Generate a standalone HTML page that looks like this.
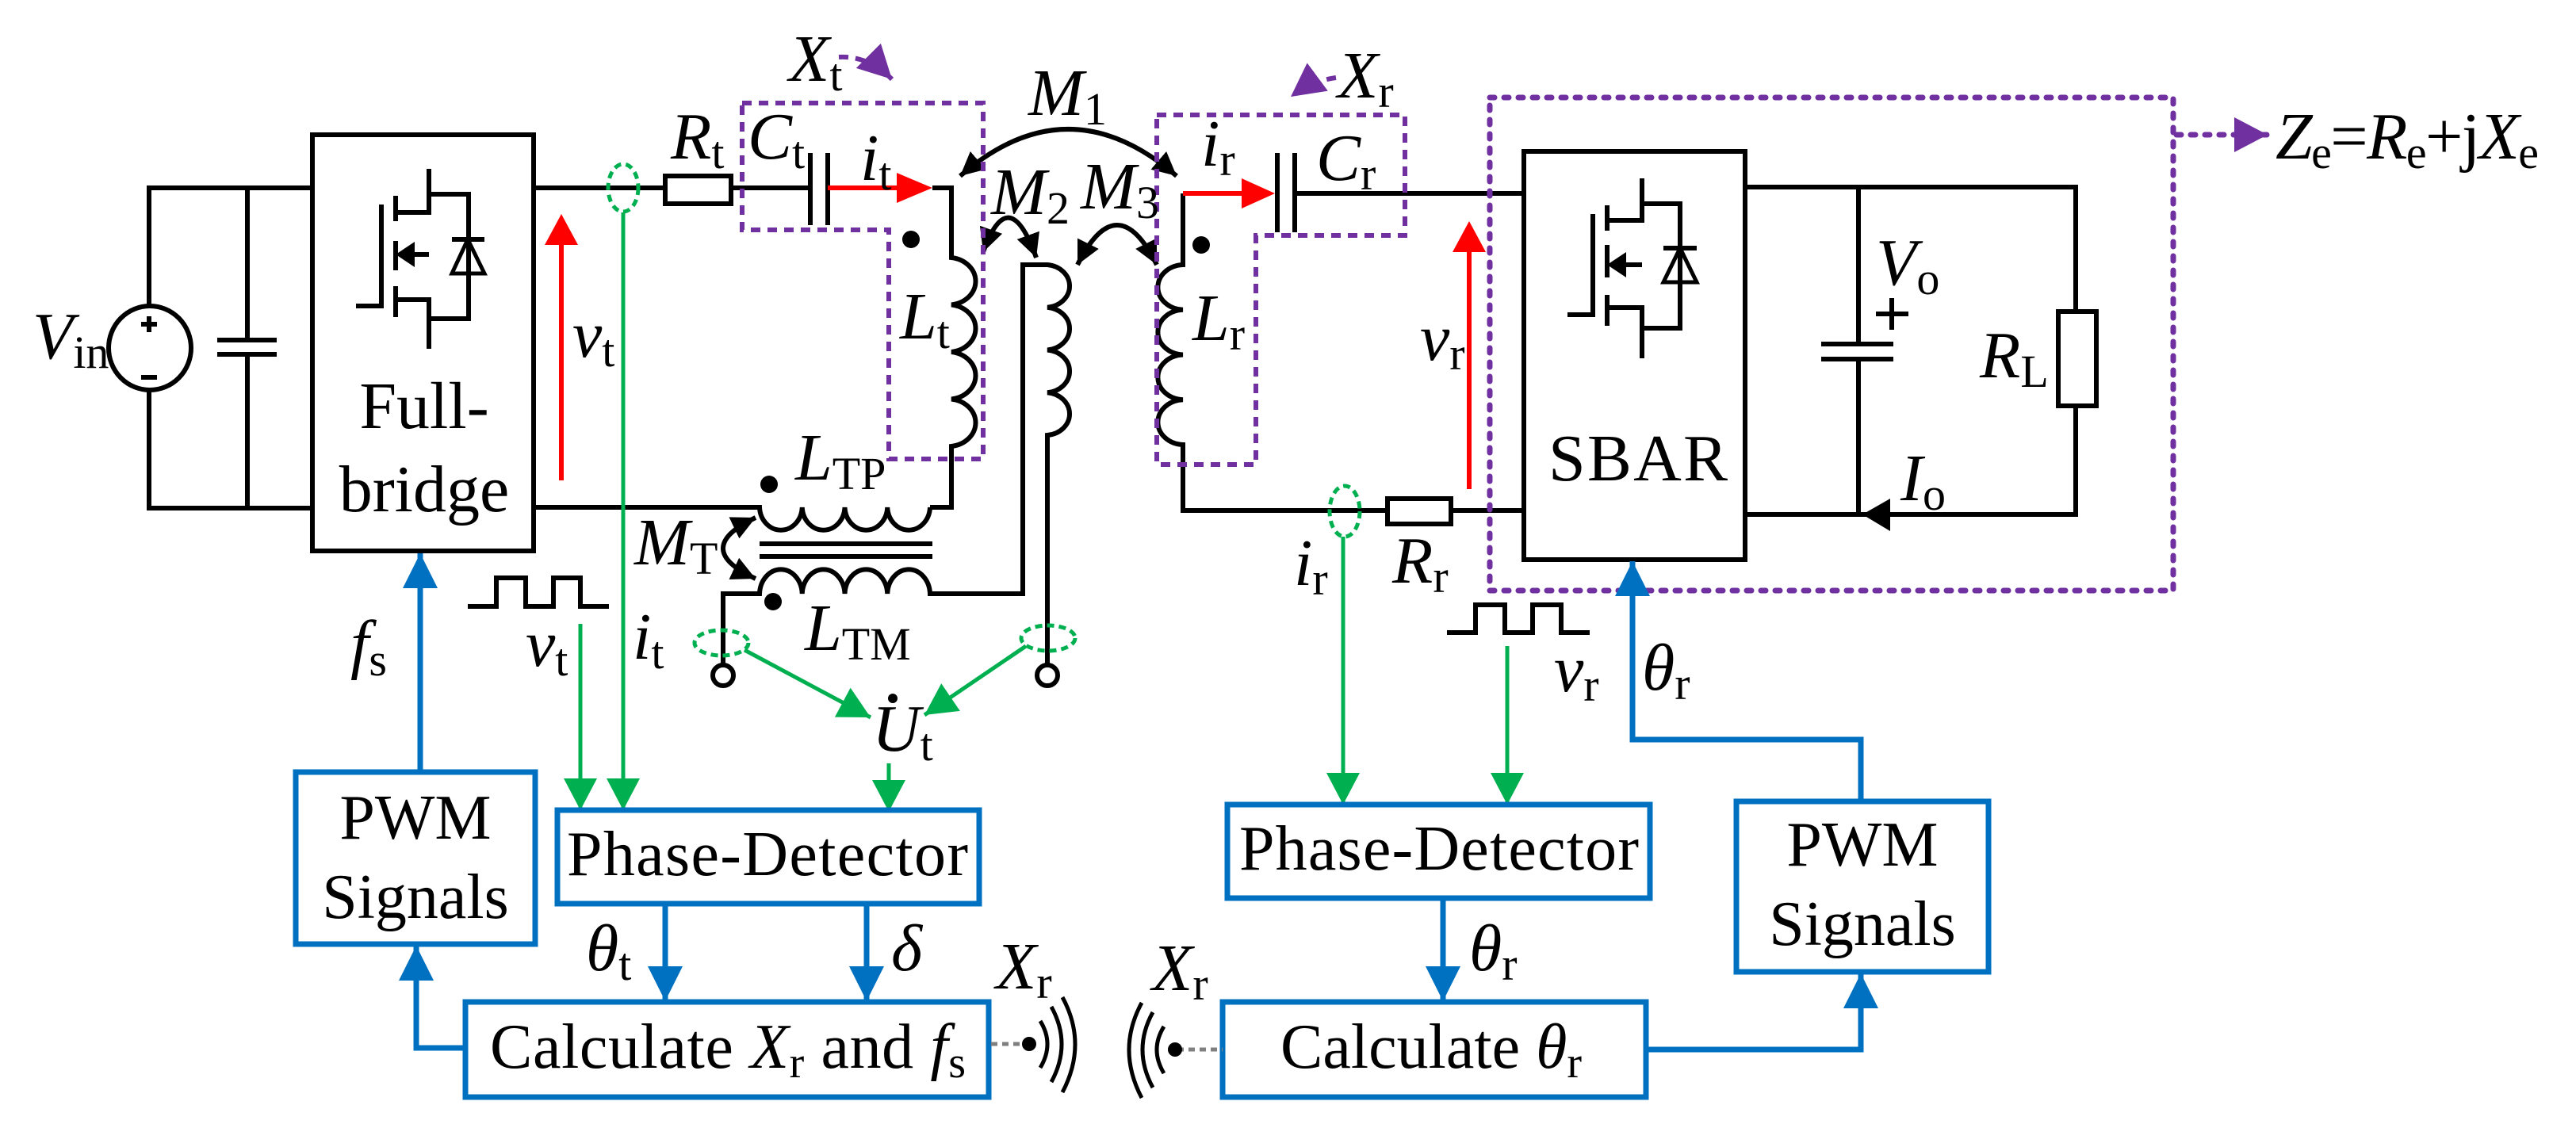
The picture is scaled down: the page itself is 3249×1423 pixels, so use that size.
<!DOCTYPE html>
<html><head><meta charset="utf-8"><style>html,body{margin:0;padding:0;background:#fff}svg{display:block}svg text{font-family:"Liberation Serif","Times New Roman",Times,"DejaVu Serif",serif;fill:#000}.i{font-style:italic}</style></head><body>
<svg width="3249" height="1423" viewBox="0 0 3249 1423" xmlns="http://www.w3.org/2000/svg" font-family="'Liberation Serif','Times New Roman',Times,'DejaVu Serif',serif">
<defs>
<marker id="ag" markerUnits="userSpaceOnUse" markerWidth="44" markerHeight="44" refX="40" refY="21" orient="auto"><path d="M0,0 L40,21 L0,42 z" fill="#00B050"/></marker>
<marker id="ab" markerUnits="userSpaceOnUse" markerWidth="50" markerHeight="46" refX="44" refY="22" orient="auto"><path d="M0,0 L44,22 L0,44 z" fill="#0070C0"/></marker>
<marker id="ak" markerUnits="userSpaceOnUse" markerWidth="36" markerHeight="36" refX="30" refY="15" orient="auto-start-reverse"><path d="M0,0 L30,15 L0,30 z" fill="#000"/></marker>
<marker id="ap" markerUnits="userSpaceOnUse" markerWidth="50" markerHeight="50" refX="42" refY="22" orient="auto"><path d="M0,0 L42,22 L0,44 z" fill="#7030A0"/></marker>
</defs>
<g fill="none" stroke="#000" stroke-width="6">
<path d="M394,237 H188 V386 M188,493 V641 H394"/>
<ellipse cx="189" cy="439" rx="52" ry="53"/>
<path d="M312,237 V429 M312,447 V641 M274,429 H349 M274,447 H349"/>
<path d="M188,399 V419 M178,409 H198 M178,476 H198"/>
<rect x="394" y="170" width="279" height="525"/>
<path d="M449,386 H481 V258 M499,247 V279 M499,304 V341 M499,361 V400 M499,268 H541 V213 M541,245 H591 V402 H541 M499,378 H541 V440 M541,321 H510"/>
<path d="M570,302 H611"/>
</g>
<polygon points="499,321 523,305 523,337" fill="#000"/>
<polygon points="590,302 570,345 611,345" fill="none" stroke="#000" stroke-width="5"/>
<g fill="none" stroke="#000" stroke-width="6">
<path d="M673,237 H839 M922,237 H1022 M1044,237 H1050"/>
<rect x="839" y="222" width="83" height="35"/>
<path d="M1022,193 V284 M1044,193 V284"/>
<path d="M1176,237 H1200 V325 A35,30 0 0 1 1200,384.5 A35,30 0 0 1 1200,444 A35,30 0 0 1 1200,503.5 A35,30 0 0 1 1200,563 V640 H1173"/>
<path d="M673,640 H958 A26.9,30 0 0 0 1011.75,640 A26.9,30 0 0 0 1065.5,640 A26.9,30 0 0 0 1119.25,640 A26.9,30 0 0 0 1173,640"/>
<path d="M958,686 H1176 M958,702 H1176"/>
<path d="M912,838 V749 H958 A26.9,32 0 0 1 1011.75,749 A26.9,32 0 0 1 1065.5,749 A26.9,32 0 0 1 1119.25,749 A26.9,32 0 0 1 1173,749 H1290 V334 H1321 A31,27 0 0 1 1321,387.75 A31,27 0 0 1 1321,441.5 A31,27 0 0 1 1321,495.25 A31,27 0 0 1 1321,549 V838"/>
<circle cx="912" cy="852" r="13"/><circle cx="1321" cy="852" r="13"/>
<path d="M1492,244 V334 A33,28.4 0 0 0 1492,390.75 A33,28.4 0 0 0 1492,447.5 A33,28.4 0 0 0 1492,504.25 A33,28.4 0 0 0 1492,561 V644 H1750 M1830,644 H1922"/>
<rect x="1750" y="629" width="80" height="32"/>
<path d="M1611,193 V293 M1633,193 V293 M1633,244 H1922"/>
<rect x="1922" y="191" width="279" height="515"/>
<path d="M1977,397 H2009 V270 M2027,259 V291 M2027,309 V350 M2027,372 V411 M2027,278 H2071 V225 M2071,257 H2119 V414 H2071 M2027,388 H2071 V452 M2071,334 H2040 M2098,313 H2140"/>
<path d="M2201,236 H2618 V393 M2618,512 V649 H2201 M2344,236 V434 M2344,453 V649 M2297,434 H2388 M2297,453 H2388"/>
<rect x="2596" y="393" width="48" height="119"/>
<path d="M2366,396 H2407 M2386,376 V416"/>
<path d="M590,765 H626 V729 H663 V765 H698 V729 H732 V765 H768"/>
<path d="M1825,798 H1861 V763 H1898 V798 H1933 V763 H1969 V798 H2005"/>
</g>
<polygon points="2027,334 2051,318 2051,350" fill="#000"/>
<polygon points="2119,313 2098,356 2140,356" fill="none" stroke="#000" stroke-width="5"/>
<polygon points="2349,649 2384,629 2384,670" fill="#000"/>
<g fill="#000"><circle cx="970" cy="611" r="11"/><circle cx="975" cy="759" r="11"/><circle cx="1149" cy="302" r="11"/><circle cx="1515" cy="309" r="11"/></g>
<g fill="none" stroke="#000" stroke-width="6">
<path d="M1211,222 Q1347,104 1484,222" marker-start="url(#ak)" marker-end="url(#ak)"/>
<path d="M1240,318 Q1272,228 1307,325" marker-start="url(#ak)" marker-end="url(#ak)"/>
<path d="M1359,334 Q1409,234 1459,334" marker-start="url(#ak)" marker-end="url(#ak)"/>
<path d="M953,653 Q871,692 953,730" marker-start="url(#ak)" marker-end="url(#ak)"/>
</g>
<g stroke="#FF0000" stroke-width="6"><path d="M708,606 V305 M1044,237 H1135 M1492,244 H1570 M1853,617 V314"/></g>
<g fill="#FF0000"><polygon points="708,270 687,309 729,309"/><polygon points="1176,237 1131,218 1131,256"/><polygon points="1608,244 1566,225 1566,263"/><polygon points="1853,279 1832,318 1874,318"/></g>
<g fill="none" stroke="#7030A0" stroke-width="6" stroke-dasharray="12,9">
<path d="M936,130 H1240 V579 H1121 V290 H936 Z"/>
<path d="M1459,145 H1772 V297 H1584 V586 H1459 Z"/>
<path d="M1058,72 Q1095,70 1125,100" marker-end="url(#ap)"/>
<path d="M1685,98 Q1655,102 1628,122" marker-end="url(#ap)"/>
</g>
<g fill="none" stroke="#7030A0" stroke-width="7" stroke-dasharray="6,12" stroke-linecap="round">
<path d="M1879,123 H2741 V745 H1879 Z"/>
<path d="M2745,170 H2860" marker-end="url(#ap)"/>
</g>
<g fill="none" stroke="#00B050" stroke-width="5" stroke-dasharray="9,6">
<ellipse cx="786" cy="237" rx="19" ry="30"/><ellipse cx="1696" cy="645" rx="19" ry="32"/>
<ellipse cx="910" cy="811" rx="34" ry="16"/><ellipse cx="1322" cy="805" rx="34" ry="16"/>
</g>
<g fill="none" stroke="#00B050" stroke-width="5">
<path d="M786,268 V1022" marker-end="url(#ag)"/>
<path d="M732,787 V1022" marker-end="url(#ag)"/>
<path d="M1121,963 V1024" marker-end="url(#ag)"/>
<path d="M939,820 L1098,905" marker-end="url(#ag)"/>
<path d="M1294,815 L1166,902" marker-end="url(#ag)"/>
<path d="M1694,677 V1015" marker-end="url(#ag)"/>
<path d="M1901,815 V1015" marker-end="url(#ag)"/>
</g>
<g fill="none" stroke="#0070C0" stroke-width="7">
<rect x="373" y="974" width="302" height="217"/>
<rect x="703" y="1022" width="532" height="118"/>
<rect x="587" y="1264" width="660" height="120"/>
<rect x="1548" y="1015" width="533" height="118"/>
<rect x="1542" y="1264" width="534" height="120"/>
<rect x="2190" y="1011" width="318" height="215"/>
<path d="M530,973 V698" marker-end="url(#ab)"/>
<path d="M587,1322 H525 V1193" marker-end="url(#ab)"/>
<path d="M839,1140 V1263" marker-end="url(#ab)"/>
<path d="M1093,1140 V1263" marker-end="url(#ab)"/>
<path d="M1820,1133 V1263" marker-end="url(#ab)"/>
<path d="M2347,1008 V933 H2059 V708" marker-end="url(#ab)"/>
<path d="M2076,1324 H2347 V1228" marker-end="url(#ab)"/>
</g>
<g fill="none" stroke="#808080" stroke-width="5" stroke-dasharray="8,6"><path d="M1250,1317 H1295 M1485,1324 H1542"/></g>
<g fill="#000"><circle cx="1298" cy="1317" r="9"/><circle cx="1482" cy="1324" r="9"/></g>
<g fill="none" stroke="#000" stroke-width="5">
<path d="M1312,1288 Q1330,1317 1312,1347 M1326,1270 Q1352,1317 1326,1365 M1340,1258 Q1372,1317 1340,1378"/>
<path d="M1468,1295 Q1450,1324 1468,1354 M1454,1277 Q1428,1324 1454,1372 M1440,1265 Q1408,1324 1440,1385"/>
</g>
<g font-size="84">
<text x="41" y="452"><tspan class="i">V</tspan><tspan font-size="58" dy="12">in</tspan></text>
<text x="846" y="200"><tspan class="i">R</tspan><tspan font-size="58" dy="12">t</tspan></text>
<text x="943" y="200"><tspan class="i">C</tspan><tspan font-size="58" dy="12">t</tspan></text>
<text x="1085" y="227"><tspan class="i">i</tspan><tspan font-size="58" dy="12">t</tspan></text>
<text x="995" y="102"><tspan class="i">X</tspan><tspan font-size="58" dy="12">t</tspan></text>
<text x="722" y="450"><tspan class="i">v</tspan><tspan font-size="58" dy="12">t</tspan></text>
<text x="1297" y="145"><tspan class="i">M</tspan><tspan font-size="58" dy="12">1</tspan></text>
<text x="1250" y="270"><tspan class="i">M</tspan><tspan font-size="58" dy="12">2</tspan></text>
<text x="1363" y="263"><tspan class="i">M</tspan><tspan font-size="58" dy="12">3</tspan></text>
<text x="1135" y="427"><tspan class="i">L</tspan><tspan font-size="58" dy="12">t</tspan></text>
<text x="1003" y="605"><tspan class="i">L</tspan><tspan font-size="58" dy="12">TP</tspan></text>
<text x="800" y="712"><tspan class="i">M</tspan><tspan font-size="58" dy="12">T</tspan></text>
<text x="1015" y="820"><tspan class="i">L</tspan><tspan font-size="58" dy="12">TM</tspan></text>
<text x="1515" y="209"><tspan class="i">i</tspan><tspan font-size="58" dy="12">r</tspan></text>
<text x="1660" y="227"><tspan class="i">C</tspan><tspan font-size="58" dy="12">r</tspan></text>
<text x="1687" y="123"><tspan class="i">X</tspan><tspan font-size="58" dy="12">r</tspan></text>
<text x="1504" y="429"><tspan class="i">L</tspan><tspan font-size="58" dy="12">r</tspan></text>
<text x="1791" y="454"><tspan class="i">v</tspan><tspan font-size="58" dy="12">r</tspan></text>
<text x="1632" y="738"><tspan class="i">i</tspan><tspan font-size="58" dy="12">r</tspan></text>
<text x="1756" y="735"><tspan class="i">R</tspan><tspan font-size="58" dy="12">r</tspan></text>
<text x="2366" y="359"><tspan class="i">V</tspan><tspan font-size="58" dy="12">o</tspan></text>
<text x="2397" y="631"><tspan class="i">I</tspan><tspan font-size="58" dy="12">o</tspan></text>
<text x="2497" y="476"><tspan class="i">R</tspan><tspan font-size="58" dy="12">L</tspan></text>
<text x="442" y="840"><tspan class="i">f</tspan><tspan font-size="58" dy="12">s</tspan></text>
<text x="663" y="840"><tspan class="i">v</tspan><tspan font-size="58" dy="12">t</tspan></text>
<text x="798" y="831"><tspan class="i">i</tspan><tspan font-size="58" dy="12">t</tspan></text>
<text x="1100" y="947"><tspan class="i">U</tspan><tspan font-size="58" dy="12">t</tspan></text>
<text x="1960" y="872"><tspan class="i">v</tspan><tspan font-size="58" dy="12">r</tspan></text>
<text x="2071" y="870"><tspan class="i">θ</tspan><tspan font-size="58" dy="12">r</tspan></text>
<text x="739" y="1224"><tspan class="i">θ</tspan><tspan font-size="58" dy="12">t</tspan></text>
<text x="1124" y="1224" class="i">δ</text>
<text x="1853" y="1224"><tspan class="i">θ</tspan><tspan font-size="58" dy="12">r</tspan></text>
<text x="1256" y="1247"><tspan class="i">X</tspan><tspan font-size="58" dy="12">r</tspan></text>
<text x="1453" y="1249"><tspan class="i">X</tspan><tspan font-size="58" dy="12">r</tspan></text>
<text x="2870" y="200" textLength="332"><tspan class="i">Z</tspan><tspan font-size="58" dy="12">e</tspan><tspan dy="-12">=</tspan><tspan class="i">R</tspan><tspan font-size="58" dy="12">e</tspan><tspan dy="-12">+j</tspan><tspan class="i">X</tspan><tspan font-size="58" dy="12">e</tspan></text>
<text x="535" y="540" text-anchor="middle">Full-</text>
<text x="535" y="645" text-anchor="middle">bridge</text>
<text x="1953" y="606" textLength="226">SBAR</text>
<text x="524" y="1058" text-anchor="middle" font-size="80">PWM</text>
<text x="524" y="1158" text-anchor="middle" font-size="80">Signals</text>
<text x="2349" y="1092" text-anchor="middle" font-size="80">PWM</text>
<text x="2349" y="1192" text-anchor="middle" font-size="80">Signals</text>
<text x="715" y="1104" font-size="80" textLength="506">Phase-Detector</text>
<text x="1563" y="1097" font-size="80" textLength="504">Phase-Detector</text>
<text x="618" y="1347" font-size="80" textLength="600">Calculate <tspan class="i">X</tspan><tspan font-size="56" dy="12">r</tspan><tspan dy="-12"> and </tspan><tspan class="i">f</tspan><tspan font-size="56" dy="12">s</tspan></text>
<text x="1615" y="1347" font-size="80">Calculate <tspan class="i">θ</tspan><tspan font-size="56" dy="12">r</tspan></text>
</g>
<circle cx="1126" cy="881" r="6" fill="#000"/>
</svg>
</body></html>
